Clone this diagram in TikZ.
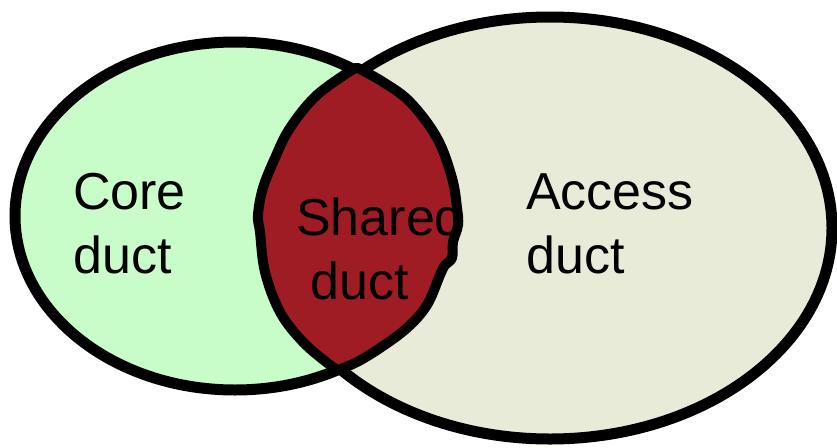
\documentclass[tikz,border=0pt]{standalone}
\usepackage{fontspec}
\setmainfont{Liberation Sans}
\definecolor{corefill}{RGB}{200,252,200}
\definecolor{accessfill}{RGB}{232,235,216}
\definecolor{sharedfill}{RGB}{160,28,36}
\begin{document}
\begin{tikzpicture}[x=1pt,y=-1pt,
  ring/.style={line width=11pt},
  lens/.style={line width=10pt, line join=round, fill=sharedfill},
  label/.style={font=\fontsize{52}{64}\selectfont, inner sep=0pt, anchor=base west, align=left}]
\useasboundingbox (0,0) rectangle (837,447);
% the two duct sets
\coordinate (corec) at (235,216);
\coordinate (accc) at (550,228);
\draw[ring, fill=corefill] (corec) ellipse [x radius=220pt, y radius=174pt];
\draw[ring, fill=accessfill] (accc) ellipse [x radius=282pt, y radius=211pt];
% hand-drawn overlap region
\draw[lens]
  plot[smooth, tension=0.6] coordinates {(355,68) (317,95) (290,128) (275,158) (263,188)
      (258,215) (260,232) (265,272) (280,312) (303,342) (330,365) (338,370)}
  -- plot[smooth, tension=0.6] coordinates {(338,370) (357,362) (380,348) (407,328)
      (427,305) (440,275) (445,265) (452,258) (453,242) (458,225) (457,208) (452,178)
      (437,138) (410,102) (383,82) (358,68)}
  -- cycle;
% labels (anchored on the baseline of the second line)
\node[label] (core) at (73,273) {Core\\duct};
\node[label] (access) at (526,273) {Access\\duct};
\node[label] (shared) at (296,299) {Shared\\\hspace*{14pt}duct};
\end{tikzpicture}
\end{document}
